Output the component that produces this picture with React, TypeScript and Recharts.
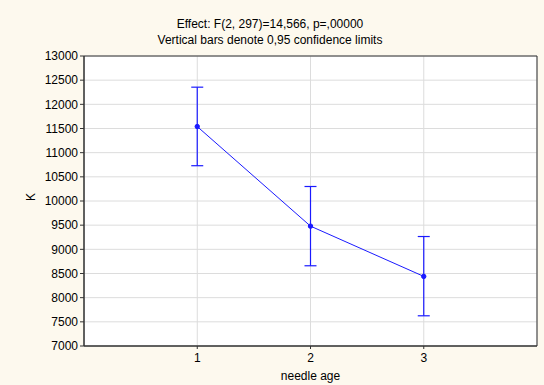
import React from 'react';
import {
  ComposedChart,
  Line,
  XAxis,
  YAxis,
  CartesianGrid,
  ErrorBar,
  ReferenceArea,
} from 'recharts';

// Mean K by needle age with 0.95 confidence limits
const needleAges = [1, 2, 3];
const meanK = [11540, 9480, 8440];
const lowerLimit = [10730, 8660, 7625];
const upperLimit = [12355, 10300, 9265];
const yTicks = [7000, 7500, 8000, 8500, 9000, 9500, 10000, 10500, 11000, 11500, 12000, 12500, 13000];
const xTicks = [1, 2, 3];

const data = needleAges.map((age, i) => ({
  age,
  k: meanK[i],
  ci: [meanK[i] - lowerLimit[i], upperLimit[i] - meanK[i]],
}));

const FONT = 'Liberation Sans, Arial, sans-serif';
const BG = '#fdf9ee';
const BLUE = '#1a1aff';

export default function App() {
  return (
    <div style={{ position: 'absolute', left: 0, top: 0, width: 544, height: 385, background: BG }}>
      <svg width={544} height={60} style={{ position: 'absolute', left: 0, top: 0 }}>
        <text x={270} y={28} textAnchor="middle" fontFamily={FONT} fontSize={12} fill="#000">
          Effect: F(2, 297)=14,566, p=,00000
        </text>
        <text x={270} y={44} textAnchor="middle" fontFamily={FONT} fontSize={12} fill="#000">
          Vertical bars denote 0,95 confidence limits
        </text>
      </svg>
      <ComposedChart
        width={544}
        height={385}
        data={data}
        margin={{ top: 56, right: 7, left: 0, bottom: 0 }}
        style={{ position: 'absolute', left: 0, top: 0 }}
      >
        <CartesianGrid stroke="#dcdcdc" strokeWidth={1} fill="#fff" />
        <XAxis
          dataKey="age"
          type="number"
          domain={[0, 4]}
          ticks={xTicks}
          height={39}
          tickSize={3}
          axisLine={{ stroke: '#333' }}
          tickLine={{ stroke: '#333' }}
          tick={{ fontFamily: FONT, fontSize: 12, fill: '#000', dy: 2 }}
          label={{ value: 'needle age', position: 'insideBottom', offset: 5, fontFamily: FONT, fontSize: 12, fill: '#000' }}
        />
        <YAxis
          type="number"
          domain={[7000, 13000]}
          ticks={yTicks}
          width={84}
          tickSize={4}
          interval={0}
          axisLine={{ stroke: '#333' }}
          tickLine={{ stroke: '#333' }}
          tick={{ fontFamily: FONT, fontSize: 12, fill: '#000' }}
          label={{ value: 'K', angle: -90, position: 'insideLeft', offset: 31, fontFamily: FONT, fontSize: 12, fill: '#000' }}
        />
        <ReferenceArea x1={0} x2={4} y1={7000} y2={13000} fill="none" stroke="#333" strokeWidth={1} ifOverflow="visible" />
        <Line
          dataKey="k"
          stroke={BLUE}
          strokeWidth={1}
          isAnimationActive={false}
          dot={{ r: 2.2, fill: BLUE, stroke: BLUE, strokeWidth: 1 }}
          activeDot={false}
        >
          <ErrorBar dataKey="ci" direction="y" width={6} stroke={BLUE} strokeWidth={1.2} isAnimationActive={false} />
        </Line>
      </ComposedChart>
    </div>
  );
}
